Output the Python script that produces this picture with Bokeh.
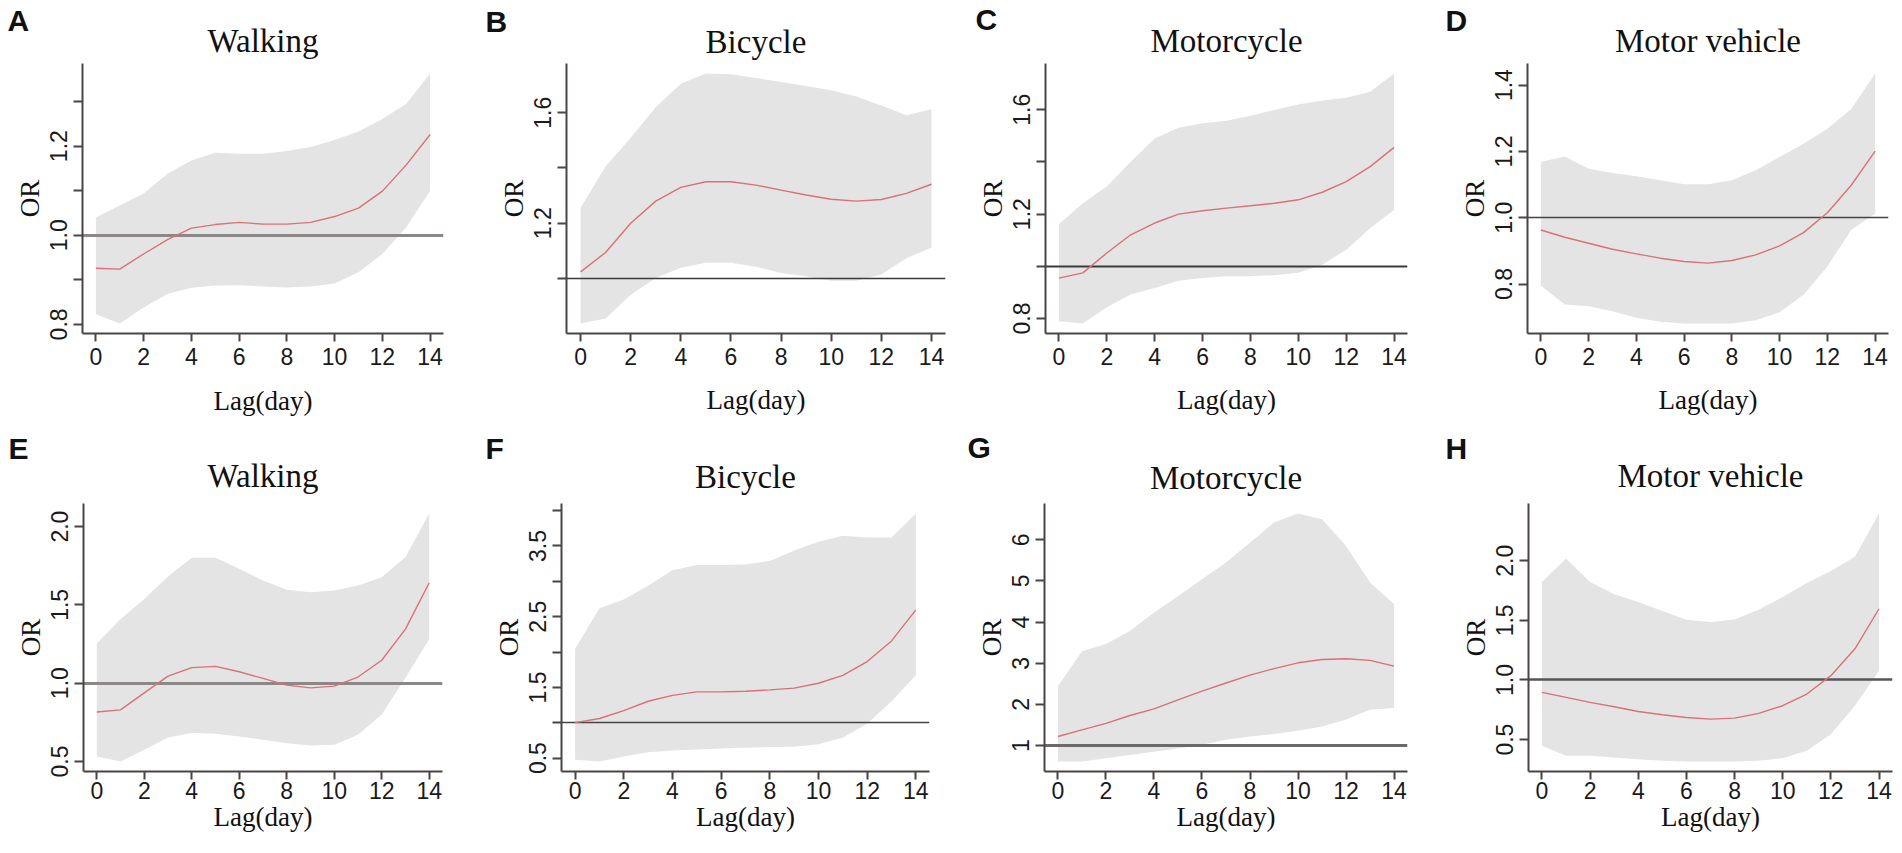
from bokeh.plotting import figure
from bokeh.layouts import row, column
from bokeh.models import Range1d, FixedTicker, Label, PrintfTickFormatter
from bokeh.embed import file_html
from bokeh.resources import INLINE

# ---------------- data ----------------
lag = list(range(15))

# A  Walking (top row)
a_or = [0.926, 0.924, 0.958, 0.990, 1.016, 1.024, 1.029, 1.025, 1.025, 1.029, 1.042, 1.061, 1.099, 1.158, 1.226]
a_hi = [1.040, 1.067, 1.094, 1.138, 1.168, 1.185, 1.183, 1.183, 1.189, 1.198, 1.214, 1.233, 1.261, 1.295, 1.363]
a_lo = [0.823, 0.802, 0.838, 0.868, 0.882, 0.887, 0.888, 0.885, 0.883, 0.885, 0.892, 0.917, 0.958, 1.018, 1.100]
# B  Bicycle
b_or = [1.024, 1.094, 1.200, 1.280, 1.330, 1.350, 1.350, 1.338, 1.320, 1.302, 1.287, 1.280, 1.286, 1.308, 1.341]
b_hi = [1.256, 1.405, 1.509, 1.620, 1.705, 1.742, 1.739, 1.726, 1.711, 1.697, 1.681, 1.659, 1.626, 1.591, 1.613]
b_lo = [0.837, 0.855, 0.941, 1.002, 1.039, 1.057, 1.057, 1.042, 1.020, 1.008, 0.992, 0.992, 1.014, 1.073, 1.112]
# C  Motorcycle
c_or = [0.955, 0.975, 1.051, 1.121, 1.166, 1.200, 1.213, 1.223, 1.232, 1.242, 1.255, 1.284, 1.325, 1.382, 1.456]
c_hi = [1.162, 1.242, 1.306, 1.401, 1.490, 1.531, 1.548, 1.558, 1.577, 1.599, 1.620, 1.636, 1.646, 1.669, 1.739]
c_lo = [0.790, 0.781, 0.843, 0.892, 0.917, 0.945, 0.955, 0.962, 0.962, 0.966, 0.975, 1.006, 1.064, 1.146, 1.217]
# D  Motor vehicle
d_or = [0.963, 0.941, 0.923, 0.905, 0.891, 0.878, 0.868, 0.863, 0.871, 0.888, 0.915, 0.955, 1.015, 1.098, 1.201]
d_hi = [1.168, 1.185, 1.148, 1.135, 1.125, 1.113, 1.101, 1.101, 1.113, 1.143, 1.183, 1.223, 1.268, 1.328, 1.435]
d_lo = [0.795, 0.738, 0.733, 0.718, 0.698, 0.686, 0.681, 0.681, 0.681, 0.691, 0.715, 0.768, 0.853, 0.963, 1.013]
# E  Walking (bottom row)
e_or = [0.816, 0.829, 0.938, 1.045, 1.099, 1.107, 1.073, 1.030, 0.987, 0.970, 0.981, 1.039, 1.146, 1.345, 1.641]
e_hi = [1.253, 1.409, 1.538, 1.681, 1.801, 1.801, 1.731, 1.656, 1.596, 1.581, 1.591, 1.624, 1.677, 1.806, 2.084]
e_lo = [0.531, 0.499, 0.574, 0.653, 0.681, 0.676, 0.659, 0.638, 0.616, 0.601, 0.606, 0.670, 0.799, 1.034, 1.281]
# F  Bicycle
f_or = [1.002, 1.060, 1.172, 1.304, 1.387, 1.436, 1.436, 1.445, 1.465, 1.489, 1.558, 1.670, 1.865, 2.157, 2.596]
f_hi = [2.045, 2.620, 2.742, 2.937, 3.156, 3.229, 3.229, 3.239, 3.288, 3.434, 3.560, 3.643, 3.619, 3.619, 3.960]
f_lo = [0.476, 0.451, 0.524, 0.583, 0.607, 0.622, 0.636, 0.646, 0.656, 0.661, 0.695, 0.792, 0.987, 1.304, 1.670]
# G  Motorcycle
g_or = [1.22, 1.38, 1.54, 1.73, 1.89, 2.11, 2.32, 2.52, 2.71, 2.87, 3.01, 3.09, 3.11, 3.07, 2.93]
g_hi = [2.44, 3.29, 3.47, 3.78, 4.23, 4.63, 5.04, 5.45, 5.93, 6.42, 6.64, 6.50, 5.85, 4.96, 4.43]
g_lo = [0.61, 0.61, 0.69, 0.77, 0.85, 0.93, 1.02, 1.14, 1.22, 1.28, 1.36, 1.46, 1.63, 1.87, 1.91]
# H  Motor vehicle
h_or = [0.896, 0.854, 0.812, 0.776, 0.736, 0.708, 0.686, 0.672, 0.680, 0.720, 0.784, 0.882, 1.036, 1.261, 1.597]
h_hi = [1.821, 2.018, 1.821, 1.718, 1.653, 1.578, 1.505, 1.485, 1.507, 1.589, 1.695, 1.813, 1.914, 2.032, 2.396]
h_lo = [0.448, 0.364, 0.364, 0.350, 0.336, 0.322, 0.316, 0.316, 0.316, 0.322, 0.344, 0.406, 0.546, 0.784, 1.078]

titles = ["Walking", "Bicycle", "Motorcycle", "Motor vehicle",
          "Walking", "Bicycle", "Motorcycle", "Motor vehicle"]
letters = ["A", "B", "C", "D", "E", "F", "G", "H"]
x_label = "Lag(day)"
y_label = "OR"

x_ticks = [0, 2, 4, 6, 8, 10, 12, 14]
# labelled y ticks and unlabelled y ticks per panel
y_major = [[0.8, 1.0, 1.2], [0.8, 1.2, 1.6], [0.8, 1.2, 1.6], [0.8, 1.0, 1.2, 1.4],
           [0.5, 1.0, 1.5, 2.0], [0.5, 1.5, 2.5, 3.5], [1, 2, 3, 4, 5, 6], [0.5, 1.0, 1.5, 2.0]]
y_minor = [[0.9, 1.1, 1.3], [1.0, 1.4], [1.0, 1.4], [],
           [], [1.0, 2.0, 3.0, 4.0], [], []]
y_fmt = ["%.1f", "%.1f", "%.1f", "%.1f", "%.1f", "%.1f", "%d", "%.1f"]
ref_value = 1.0

series = [(a_or, a_lo, a_hi), (b_or, b_lo, b_hi), (c_or, c_lo, c_hi), (d_or, d_lo, d_hi),
          (e_or, e_lo, e_hi), (f_or, f_lo, f_hi), (g_or, g_lo, g_hi), (h_or, h_lo, h_hi)]

# ---------------- layout (page pixels) ----------------
PAGE_W = 1894
col_x = [0, 484, 967, 1444, 1894]
strip_y = [(0, 60), (385, 500)]       # text strips
plot_y = [(60, 385), (500, 852)]      # plot rows
row_ft = [63, 503]                    # frame tops
row_fb = [333, 771]                   # frame bottoms
frame_l = [82, 566, 1045, 1527, 83, 561, 1044, 1528]
frame_r = [443, 945, 1407, 1888, 442, 929, 1407, 1892]
letter_xy = [(7, 30), (485, 31), (975, 29), (1445, 30), (8, 458), (485, 458), (967, 457), (1445, 458)]
title_base = [52, 52.7, 51.7, 51.7, 486.7, 487.7, 488.3, 486.7]
xlab_base_top = [410, 409, 409, 409]   # top row x titles (drawn in the strip below)
xtick_standoff = [6, 2]

ref_style = [(3, "#8c8888"), (1.5, "#3a3a3a"), (2, "#3a3a3a"), (1.5, "#444444"),
             (3, "#8c8888"), (1.5, "#444444"), (3, "#6a6a6a"), (2.5, "#555555")]

AXIS_COL = "#4a4444"
SHADE = "#e4e4e4"
LINE_COL = "#d9707b"
SERIF = "Liberation Serif"
SANS = "Liberation Sans"
SERIF_MID = (0.891 - 0.216) / 2     # baseline -> middle of text box, in em
SANS_B_MID = (0.905 - 0.212) / 2


def strip_label(fig, x, base_y, text, font, size, mid, align, style="normal"):
    fig.add_layout(Label(x=x, y=base_y - mid * size, text=text, text_font=font,
                         text_font_style=style, text_font_size=f"{size}px",
                         text_color="#111111", text_align=align, text_baseline="middle"))


def make_strip(y0, y1):
    sh = y1 - y0
    s = figure(width=PAGE_W, height=sh, output_backend="svg", toolbar_location=None,
               x_range=Range1d(0, PAGE_W), y_range=Range1d(sh, 0),
               x_axis_type=None, y_axis_type=None, min_border=0)
    s.outline_line_color = None
    s.background_fill_color = "white"
    s.border_fill_color = "white"
    return s


strips = [make_strip(*strip_y[0]), make_strip(*strip_y[1])]

# letters and panel titles
for i in range(8):
    r = i // 4
    s, y0 = strips[r], strip_y[r][0]
    lx, ly = letter_xy[i]
    strip_label(s, lx, ly - y0, letters[i], SANS, 30, SANS_B_MID, "left", "bold")
    strip_label(s, (frame_l[i] + frame_r[i]) / 2, title_base[i] - y0, titles[i],
                SERIF, 33, SERIF_MID, "center")
# x titles of the top row live in the strip between the rows
for k in range(4):
    strip_label(strips[1], (frame_l[k] + frame_r[k]) / 2, xlab_base_top[k] - strip_y[1][0],
                x_label, SERIF, 27, SERIF_MID, "center")

rows = []
for r in range(2):
    py0, py1 = plot_y[r]
    figs = []
    for k in range(4):
        i = 4 * r + k
        est, lo, hi = series[i]
        fx, fw = col_x[k], col_x[k + 1] - col_x[k]
        ymin, ymax = min(lo), max(hi)
        pad = 0.04 * (ymax - ymin)
        p = figure(width=fw, height=py1 - py0, output_backend="svg", toolbar_location=None,
                   x_range=Range1d(-0.56, 14.56), y_range=Range1d(ymin - pad, ymax + pad),
                   min_border_left=frame_l[i] - fx, min_border_right=col_x[k + 1] - frame_r[i],
                   min_border_top=row_ft[r] - py0, min_border_bottom=py1 - row_fb[r],
                   x_axis_label=(x_label if r == 1 else None), y_axis_label=y_label)
        p.outline_line_color = None
        p.grid.visible = False
        p.background_fill_color = "white"
        p.border_fill_color = "white"

        p.varea(x=lag, y1=lo, y2=hi, fill_color=SHADE)
        p.hspan(y=[ref_value], line_width=ref_style[i][0], line_color=ref_style[i][1])
        p.line(x=lag, y=est, line_color=LINE_COL, line_width=1.4)

        p.xaxis.ticker = FixedTicker(ticks=x_ticks)
        p.yaxis.ticker = FixedTicker(ticks=y_major[i], minor_ticks=y_minor[i])
        p.yaxis.formatter = PrintfTickFormatter(format=y_fmt[i])
        p.yaxis.major_label_orientation = "vertical"

        for ax in (p.xaxis[0], p.yaxis[0]):
            ax.axis_line_color = AXIS_COL
            ax.axis_line_width = 2
            ax.major_tick_line_color = AXIS_COL
            ax.major_tick_line_width = 2
            ax.major_tick_in = 0
            ax.minor_tick_line_color = AXIS_COL
            ax.minor_tick_line_width = 2
            ax.minor_tick_in = 0
            ax.major_label_text_font = SANS
            ax.major_label_text_font_size = "23px"
            ax.major_label_text_color = "#1a1a1a"
            ax.axis_label_text_font = SERIF
            ax.axis_label_text_font_size = "27px"
            ax.axis_label_text_font_style = "normal"
            ax.axis_label_text_color = "#111111"
        p.yaxis.major_tick_out = 9
        p.yaxis.minor_tick_out = 9
        p.xaxis.major_tick_out = 8
        p.xaxis.minor_tick_line_color = None
        p.xaxis.major_label_standoff = xtick_standoff[r]
        p.xaxis.axis_label_standoff = 0
        p.yaxis.major_label_standoff = 6
        p.yaxis.axis_label_standoff = 3
        figs.append(p)
    rows.append(row(*figs))

layout = column(strips[0], rows[0], strips[1], rows[1])
open("out.html", "w").write(file_html(layout, INLINE))
